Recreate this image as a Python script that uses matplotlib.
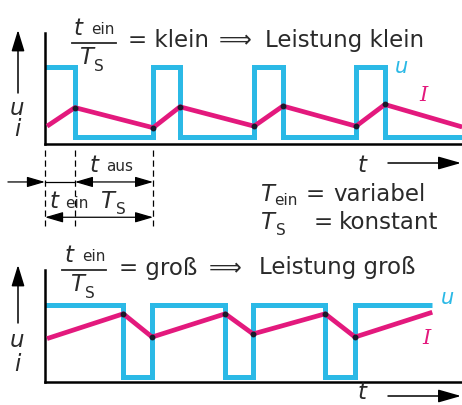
import matplotlib
matplotlib.use("Agg")
import matplotlib.pyplot as plt
import matplotlib.transforms as mtransforms

# ---------------- data (time in units of the switching period) ----------------
top_u_edges = [0.0, 0.29, 1.05, 1.31, 2.03, 2.31, 3.02, 3.30, 4.05]
top_u_levels = [1.0, 0.09, 1.0, 0.09, 1.0, 0.09, 1.0, 0.09]
top_i_t = [0.02, 0.29, 1.05, 1.31, 2.03, 2.31, 3.02, 3.30, 4.05]
top_i_v = [0.23, 0.47, 0.21, 0.48, 0.23, 0.49, 0.23, 0.51, 0.22]

bot_u_edges = [0.0, 0.76, 1.04, 1.75, 2.02, 2.72, 3.01, 3.76]
bot_u_levels = [1.0, 0.065, 1.0, 0.065, 1.0, 0.065, 1.0]
bot_i_t = [0.02, 0.76, 1.04, 1.75, 2.02, 2.72, 3.01, 3.76]
bot_i_v = [0.56, 0.88, 0.58, 0.88, 0.62, 0.88, 0.58, 0.90]

dim_marks = [0.0, 0.29, 1.05]   # t_ein start, t_ein end, period end

CYAN = "#2bb9e6"
MAGENTA = "#e3197d"
W, H = 462, 405

fig = plt.figure(figsize=(W / 100, H / 100), dpi=100)
fig.patch.set_facecolor("white")
pix = mtransforms.Affine2D().scale(1 / W, -1 / H).translate(0, 1) + fig.transFigure


def make_ax(top_px, bottom_px):
    ax = fig.add_axes([45 / W, 1 - bottom_px / H, 1 - 45 / W, (bottom_px - top_px) / H])
    ax.set_xlim(0, 417 / 103)
    ax.set_ylim(0, (bottom_px - top_px) / 77.5)
    for s in ("top", "right"):
        ax.spines[s].set_visible(False)
    for s in ("left", "bottom"):
        ax.spines[s].set_linewidth(1.8)
        ax.spines[s].set_color("black")
    ax.set_xticks([])
    ax.set_yticks([])
    ax.patch.set_alpha(0)
    return ax


ax1 = make_ax(33, 144)
ax2 = make_ax(270, 382)

for ax, ue, ul, it, iv in ((ax1, top_u_edges, top_u_levels, top_i_t, top_i_v),
                           (ax2, bot_u_edges, bot_u_levels, bot_i_t, bot_i_v)):
    ax.stairs(ul, ue, baseline=None, color=CYAN, lw=3.6, zorder=2)
    ax.plot(it, iv, color=MAGENTA, lw=3.4, solid_capstyle="butt", zorder=3)
    ax.plot(it[1:-1], iv[1:-1], ls="none", marker="o", ms=3.2, color="#1a1a2a", zorder=4)

# ---------------- dimension lines below the top chart ----------------
tr = ax1.get_xaxis_transform()
for xm in dim_marks:
    ax1.plot([xm, xm], [-0.05, -0.74], transform=tr, clip_on=False,
             color="black", lw=0.9, ls=(0, (5, 3)))

ah = dict(arrowstyle="-|>,head_length=0.55,head_width=0.16", color="black",
          lw=0.9, shrinkA=0, shrinkB=0, mutation_scale=20)
dah = dict(arrowstyle="<|-|>,head_length=0.55,head_width=0.16", color="black",
           lw=0.9, shrinkA=0, shrinkB=0, mutation_scale=20)
y1, y2 = -0.342, -0.66
ax1.annotate("", xy=(dim_marks[0], y1), xytext=(-0.36, y1), xycoords=tr, textcoords=tr,
             arrowprops=ah, annotation_clip=False)
ax1.plot([dim_marks[0], dim_marks[1]], [y1, y1], transform=tr, clip_on=False, color="black", lw=0.9)
ax1.annotate("", xy=(dim_marks[2], y1), xytext=(dim_marks[1], y1), xycoords=tr, textcoords=tr,
             arrowprops=dah, annotation_clip=False)
ax1.annotate("", xy=(dim_marks[2], y2), xytext=(dim_marks[0], y2), xycoords=tr, textcoords=tr,
             arrowprops=dah, annotation_clip=False)

# ---------------- helper text ----------------
FS = 16.5
SUB = 11
TXT = "#2a2a2a"


def txt(x, y, s, size=FS, style="normal", color=TXT, family="DejaVu Sans", ha="left"):
    fig.text(x, y, s, transform=pix, fontsize=size, style=style, color=color,
             family=family, ha=ha, va="baseline")


def frac(x, y_line, x0, x1):
    # numerator t_ein, denominator T_S
    txt(x, y_line - 8, "t", style="italic")
    txt(x + 17, y_line - 9, "ein", size=SUB)
    fig.add_artist(plt.Line2D([x0, x1], [y_line, y_line], transform=pix, color=TXT, lw=1.3))
    txt(x + 5, y_line + 21, "T", style="italic")
    txt(x + 20, y_line + 28, "S", size=SUB)


# top title
frac(74, 43, 72, 116)
txt(128, 47, "= klein")
txt(219, 47, "⟹")
txt(265, 47, "Leistung klein")

# bottom title
frac(65, 270, 62, 106)
txt(119, 275, "= groß")
txt(209, 275, "⟹")
txt(259, 274, "Leistung groß")

# middle labels
txt(90, 172, "t", style="italic")
txt(106, 171, "aus", size=SUB)
txt(50, 208, "t", style="italic")
txt(65, 208, "ein", size=SUB)
txt(100, 208, "T", style="italic")
txt(116, 214, "S", size=SUB)

txt(260, 201, "T", style="italic")
txt(274, 205, "ein", size=SUB)
txt(306, 201, "=")
txt(333, 201, "variabel")
txt(260, 229, "T", style="italic")
txt(276, 235, "S", size=SUB)
txt(314, 229, "=")
txt(339, 229, "konstant")

# series labels
txt(395, 73, "u", size=15, style="italic", color=CYAN)
txt(419, 101, "I", size=15, style="italic", color=MAGENTA, family="DejaVu Serif")
txt(441, 304, "u", size=15, style="italic", color=CYAN)
txt(422, 344, "I", size=15, style="italic", color=MAGENTA, family="DejaVu Serif")

# axis labels (u, i with upward arrow; t with rightward arrow)
for (ytop, ybot, yu, yi) in ((30, 93, 115, 136), (265, 323, 347, 371)):
    fig.add_artist(matplotlib.patches.FancyArrowPatch(
        (18, ybot), (18, ytop), transform=pix, arrowstyle="-|>,head_length=0.65,head_width=0.2",
        mutation_scale=20, color="black", lw=1.1, shrinkA=0, shrinkB=0))
    txt(17, yu, "u", style="italic", ha="center")
    txt(17, yi, "i", style="italic", ha="center")

for (yt, ya) in ((172, 163), (399, 396)):
    txt(362, yt, "t", style="italic", ha="center")
    fig.add_artist(matplotlib.patches.FancyArrowPatch(
        (388, ya), (461, ya), transform=pix, arrowstyle="-|>,head_length=0.7,head_width=0.2",
        mutation_scale=20, color="black", lw=1.1, shrinkA=0, shrinkB=0))

fig.savefig("out.png", dpi=100)
